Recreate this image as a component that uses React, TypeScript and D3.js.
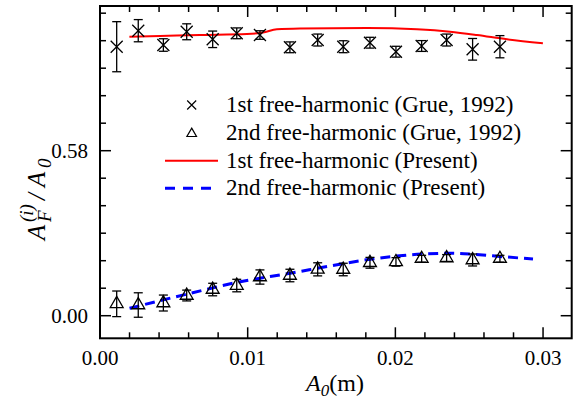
import React, { useEffect, useRef } from 'react';
import * as d3 from 'd3';

// wave amplitude A0 (m) of the Grue (1992) measurements
const ampGrue = [0.00113, 0.00259, 0.00429, 0.00587, 0.00763, 0.00926, 0.01083, 0.01286, 0.01474, 0.01647, 0.01828, 0.02004, 0.02178, 0.02347, 0.02523, 0.02708];
const firstGrue = [0.9455, 1.0018, 0.9515, 0.998, 0.9715, 0.9926, 0.9866, 0.9434, 0.969, 0.9455, 0.9596, 0.928, 0.948, 0.969, 0.9364, 0.9455];
const firstErr = [0.088, 0.039, 0.022, 0.028, 0.029, 0.019, 0.015, 0.019, 0.021, 0.021, 0.019, 0.019, 0.019, 0.021, 0.038, 0.039];
const secondGrue = [0.0418, 0.0376, 0.0446, 0.071, 0.092, 0.106, 0.136, 0.1413, 0.163, 0.1624, 0.186, 0.1891, 0.2003, 0.2028, 0.1958, 0.2003];
const secondErr = [0.045, 0.043, 0.028, 0.019, 0.022, 0.022, 0.025, 0.022, 0.023, 0.022, 0.019, 0.015, 0.012, 0.012, 0.021, 0.012];

// present model curves
const firstPresentX = [0.00199, 0.00406, 0.00677, 0.00995, 0.01104, 0.01198, 0.01354, 0.01808, 0.02146, 0.0237, 0.02552, 0.02756, 0.02999];
const firstPresentY = [0.9807, 0.983, 0.9866, 0.99, 0.9954, 1.0067, 1.0095, 1.0112, 1.0067, 0.9982, 0.9866, 0.9715, 0.9575];
const secondPresentX = [0.002, 0.0061, 0.0095, 0.01286, 0.01557, 0.01828, 0.02187, 0.0237, 0.02525, 0.02728, 0.02932];
const secondPresentY = [0.026, 0.0787, 0.1195, 0.149, 0.1747, 0.1982, 0.2169, 0.2193, 0.2158, 0.2074, 0.1993];

const xTicks = [0, 0.01, 0.02, 0.03];
const xTickLabels = ['0.00', '0.01', '0.02', '0.03'];
const yTicks = [0, 0.58];
const yTickLabels = ['0.00', '0.58'];
const legendLabels = [
  '1st free-harmonic (Grue, 1992)',
  '2nd free-harmonic (Grue, 1992)',
  '1st free-harmonic (Present)',
  '2nd free-harmonic (Present)'
];

const W = 573;
const H = 403;
const FONT = 'Liberation Serif, Times New Roman, serif';

export default function App() {
  const ref = useRef<SVGSVGElement>(null);

  useEffect(() => {
    const svg = d3.select(ref.current);
    svg.selectAll('*').remove();
    svg.style('font-family', FONT);

    const left = 100, right = 571.7, top = 6, bottom = 338.3;
    const x = d3.scaleLinear().domain([0, 0.03194]).range([left, right]);
    const y = d3.scaleLinear().domain([-0.0794, 1.0886]).range([bottom, top]);

    svg.append('rect').attr('width', W).attr('height', H).attr('fill', '#fff');

    // ticks (inward, mirrored on top/right)
    const tg = svg.append('g').attr('stroke', '#000').attr('stroke-width', 1.5);
    const xMinor = d3.range(0, 0.0319, 0.002);
    xMinor.forEach((v, i) => {
      const len = i % 5 === 0 ? 11 : 6;
      tg.append('line').attr('x1', x(v)).attr('x2', x(v)).attr('y1', bottom).attr('y2', bottom - len);
      tg.append('line').attr('x1', x(v)).attr('x2', x(v)).attr('y1', top).attr('y2', top + len);
    });
    const yMinor = d3.range(0, 1.08, 0.58 / 6);
    yMinor.forEach((v, i) => {
      const len = i % 6 === 0 ? 11 : 6;
      tg.append('line').attr('y1', y(v)).attr('y2', y(v)).attr('x1', left).attr('x2', left + len);
      tg.append('line').attr('y1', y(v)).attr('y2', y(v)).attr('x1', right).attr('x2', right - len);
    });

    // frame
    svg.append('rect')
      .attr('x', left).attr('y', top)
      .attr('width', right - left).attr('height', bottom - top)
      .attr('fill', 'none').attr('stroke', '#000').attr('stroke-width', 2);

    // tick labels
    xTicks.forEach((v, i) => {
      svg.append('text')
        .attr('x', x(v)).attr('y', 365)
        .attr('text-anchor', 'middle')
        .style('font-size', '21px')
        .text(xTickLabels[i]);
    });
    yTicks.forEach((v, i) => {
      svg.append('text')
        .attr('x', 88).attr('y', y(v) + 7)
        .attr('text-anchor', 'end')
        .style('font-size', '21px')
        .text(yTickLabels[i]);
    });

    // x title
    const xt = svg.append('text')
      .attr('x', 335).attr('y', 391)
      .attr('text-anchor', 'middle')
      .style('font-size', '24px');
    xt.append('tspan').style('font-style', 'italic').text('A');
    xt.append('tspan').style('font-style', 'italic').style('font-size', '17px').attr('dy', 5).text('0');
    xt.append('tspan').attr('dy', -5).text('(m)');

    // y title
    const yl = svg.append('g')
      .attr('transform', 'translate(45,240) rotate(-90)')
      .style('font-style', 'italic');
    yl.append('text').attr('x', 0).attr('y', 0).style('font-size', '25px').text('A');
    yl.append('text').attr('x', 18).attr('y', 6).style('font-size', '19px').text('F');
    yl.append('text').attr('x', 18).attr('y', -12).style('font-size', '19px').text('(i)');
    yl.append('text').attr('x', 40).attr('y', 0).style('font-size', '25px').text('/');
    yl.append('text').attr('x', 53).attr('y', 0).style('font-size', '25px').text('A');
    yl.append('text').attr('x', 72).attr('y', 6).style('font-size', '19px').text('0');

    // present curves
    const line = d3.line<number>().curve(d3.curveMonotoneX);
    svg.append('path')
      .attr('d', line(firstPresentX.map((v, i) => [x(v), y(firstPresentY[i])] as [number, number])) as string)
      .attr('fill', 'none').attr('stroke', '#ff0000').attr('stroke-width', 2);
    svg.append('path')
      .attr('d', line(secondPresentX.map((v, i) => [x(v), y(secondPresentY[i])] as [number, number])) as string)
      .attr('fill', 'none').attr('stroke', '#0000ff').attr('stroke-width', 3)
      .attr('stroke-dasharray', '10,6');

    // error bars
    const drawErr = (vals: number[], errs: number[]) => {
      const g = svg.append('g').attr('stroke', '#000').attr('stroke-width', 1.3);
      vals.forEach((v, i) => {
        const cx = x(ampGrue[i]);
        const y0 = y(v - errs[i]), y1 = y(v + errs[i]);
        g.append('line').attr('x1', cx).attr('x2', cx).attr('y1', y0).attr('y2', y1);
        g.append('line').attr('x1', cx - 4.5).attr('x2', cx + 4.5).attr('y1', y0).attr('y2', y0);
        g.append('line').attr('x1', cx - 4.5).attr('x2', cx + 4.5).attr('y1', y1).attr('y2', y1);
      });
    };
    drawErr(firstGrue, firstErr);
    drawErr(secondGrue, secondErr);

    const crossPath = (s: number) => `M${-s},${-s}L${s},${s}M${-s},${s}L${s},${-s}`;
    const tri = d3.symbol().type(d3.symbolTriangle);

    svg.append('g').selectAll('path')
      .data(firstGrue)
      .enter()
      .append('path')
      .attr('transform', (d, i) => `translate(${x(ampGrue[i])},${y(d)})`)
      .attr('d', crossPath(6))
      .attr('stroke', '#000').attr('stroke-width', 1.3).attr('fill', 'none');

    svg.append('g').selectAll('path')
      .data(secondGrue)
      .enter()
      .append('path')
      .attr('transform', (d, i) => `translate(${x(ampGrue[i])},${y(d)})`)
      .attr('d', tri.size(72)() as string)
      .attr('stroke', '#000').attr('stroke-width', 1.3).attr('fill', 'none');

    // legend
    const rows = [105, 132.7, 160.7, 188.3];
    const lg = svg.append('g');
    lg.append('path').attr('transform', `translate(191.7,${rows[0]})`).attr('d', crossPath(4.5))
      .attr('stroke', '#000').attr('stroke-width', 1.2).attr('fill', 'none');
    lg.append('path').attr('transform', `translate(191.7,${rows[1] + 1})`).attr('d', tri.size(40)() as string)
      .attr('stroke', '#000').attr('stroke-width', 1.2).attr('fill', 'none');
    lg.append('line').attr('x1', 165).attr('x2', 218).attr('y1', rows[2]).attr('y2', rows[2])
      .attr('stroke', '#ff0000').attr('stroke-width', 2);
    lg.append('line').attr('x1', 165).attr('x2', 218).attr('y1', rows[3]).attr('y2', rows[3])
      .attr('stroke', '#0000ff').attr('stroke-width', 3).attr('stroke-dasharray', '10,8');
    legendLabels.forEach((t, i) => {
      lg.append('text')
        .attr('x', 226).attr('y', rows[i] + 7)
        .style('font-size', '23px')
        .text(t);
    });
  }, []);

  return (
    <div style={{ position: 'absolute', left: 0, top: 0 }}>
      <svg ref={ref} width={W} height={H} style={{ display: 'block' }} />
    </div>
  );
}
